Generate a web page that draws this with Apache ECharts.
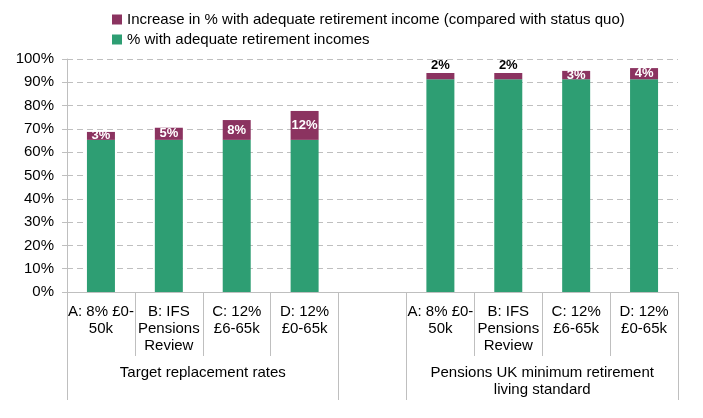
<!DOCTYPE html>
<html>
<head>
<meta charset="utf-8">
<script src="https://cdn.jsdelivr.net/npm/echarts@6/dist/echarts.min.js"></script>
<style>
  html, body { margin: 0; padding: 0; background: #fff; }
  #chart { width: 703px; height: 418px; }
</style>
</head>
<body>
<div id="chart"></div>
<script>
// categories (blank one is the gap between the two groups)
const categories = [
  'A: 8% £0-\n50k', 'B: IFS\nPensions\nReview', 'C: 12%\n£6-65k', 'D: 12%\n£0-65k',
  '',
  'A: 8% £0-\n50k', 'B: IFS\nPensions\nReview', 'C: 12%\n£6-65k', 'D: 12%\n£0-65k'
]
const groupNames = ['Target replacement rates', 'Pensions UK minimum retirement\nliving standard']
const groupSizes = [4, 1, 4]   // categories per group, middle one is the gap
const seriesNames = [
  '% with adequate retirement incomes',
  'Increase in % with adequate retirement income (compared with status quo)'
]
const adequate = [65.3, 65.3, 65.3, 65.3, '-', 91.3, 91.3, 91.3, 91.3]
const increase = [3.4, 5.2, 8.5, 12.4, '-', 2.7, 2.7, 3.6, 4.8]
const yTicks = [0, 10, 20, 30, 40, 50, 60, 70, 80, 90, 100]

const GREEN = '#2e9e73'
const PURPLE = '#8b3360'
const LINE = '#bfbfbf'
const FONT = '"Liberation Sans", Arial, sans-serif'

// second (group) axis works on half-category steps: 2 points per category + 1
const halfCount = categories.length * 2 + 1
const groupAxisData = new Array(halfCount).fill('')
const groupTicks = [0]
let pos = 0
groupSizes.forEach((n, i) => {
  pos += n * 2
  groupTicks.push(pos)
})
// label in the middle of the 1st and 3rd groups
groupAxisData[groupSizes[0]] = groupNames[0]
groupAxisData[(groupSizes[0] + groupSizes[1]) * 2 + groupSizes[2]] = groupNames[1]

const chart = echarts.init(document.getElementById('chart'))
chart.setOption({
  animation: false,
  textStyle: { fontFamily: FONT },
  legend: {
    orient: 'vertical',
    left: 112,
    top: 11,
    padding: 0,
    itemWidth: 10,
    itemHeight: 10,
    itemGap: 3,
    icon: 'rect',
    data: [seriesNames[1], seriesNames[0]],
    textStyle: { fontSize: 15, lineHeight: 17, color: '#000', fontFamily: FONT }
  },
  grid: { left: 67, right: 25, top: 59, bottom: 126 },
  xAxis: [
    {
      type: 'category',
      data: categories,
      axisLine: { lineStyle: { color: LINE, width: 1 } },
      axisTick: { show: true, interval: 0, length: 64, lineStyle: { color: LINE } },
      axisLabel: {
        interval: 0, margin: 11, fontSize: 15, lineHeight: 17,
        color: '#000', fontFamily: FONT, align: 'center'
      }
    },
    {
      type: 'category',
      position: 'bottom',
      boundaryGap: false,
      data: groupAxisData,
      axisLine: { show: false },
      axisTick: {
        show: true, length: 108,
        interval: (i) => groupTicks.includes(i),
        lineStyle: { color: LINE }
      },
      axisLabel: {
        interval: 0, margin: 72, fontSize: 15, lineHeight: 17,
        color: '#000', fontFamily: FONT, align: 'center'
      }
    }
  ],
  yAxis: {
    type: 'value',
    min: yTicks[0],
    max: yTicks[yTicks.length - 1],
    interval: yTicks[1] - yTicks[0],
    axisLine: { show: true, lineStyle: { color: LINE } },
    axisTick: { show: true, length: 5, lineStyle: { color: LINE } },
    splitLine: { lineStyle: { color: LINE, type: [6, 4] } },
    axisLabel: { formatter: '{value}%', fontSize: 15, color: '#000', margin: 13, fontFamily: FONT }
  },
  series: [
    {
      name: seriesNames[0],
      type: 'bar',
      stack: 'total',
      barWidth: 28,
      itemStyle: { color: GREEN },
      data: adequate
    },
    {
      name: seriesNames[1],
      type: 'bar',
      stack: 'total',
      barWidth: 28,
      itemStyle: { color: PURPLE },
      label: {
        show: true,
        position: 'inside',
        color: '#fff',
        fontWeight: 'bold',
        fontSize: 13,
        fontFamily: FONT,
        formatter: p => Math.floor(p.value) + '%'
      },
      // small segments get their label above the bar in black
      data: increase.map(v => (typeof v === 'number' && v < 3)
        ? { value: v, label: { position: 'top', color: '#000', distance: 1 } }
        : v)
    }
  ]
})
</script>
</body>
</html>
